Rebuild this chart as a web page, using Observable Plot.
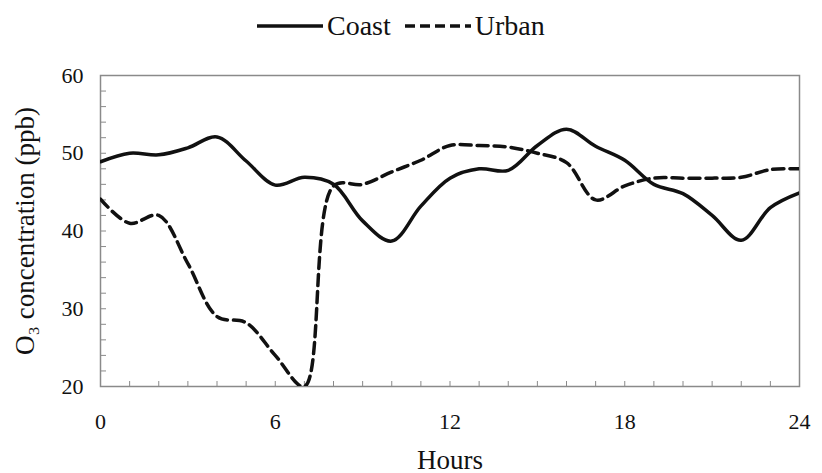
<!DOCTYPE html>
<html>
<head>
<meta charset="utf-8">
<script src="https://cdn.jsdelivr.net/npm/d3@7"></script>
<script src="https://cdn.jsdelivr.net/npm/@observablehq/plot@0.6"></script>
<style>
  body { margin: 0; background: #fff; font-family: "Liberation Serif", "DejaVu Serif", serif; }
  #wrap { position: relative; width: 822px; height: 473px; }
  #legend { position: absolute; left: 257px; top: 6px; height: 40px; display: flex; align-items: center; font-size: 28px; color: #111; }
  #legend .item { display: flex; align-items: center; }
  #legend svg { display: block; }
  #chart { position: absolute; left: 0; top: 45px; }
  #chart svg text { font-family: "Liberation Serif", serif !important; }
</style>
</head>
<body>
<div id="wrap">
  <div id="legend"></div>
  <div id="chart"></div>
</div>
<script>
const hours = [0,1,2,3,4,5,6,7,8,9,10,11,12,13,14,15,16,17,18,19,20,21,22,23,24];
const coast = [48.9,50.0,49.8,50.7,52.1,49.0,45.9,46.9,46.0,41.3,38.7,43.2,46.8,48.0,47.8,51.0,53.1,50.9,49.1,46.0,44.8,42.0,38.8,43.0,44.9];
const urban = [44.1,41.0,42.0,35.8,29.0,28.2,24.0,20.0,45.8,46.0,47.6,49.1,51.0,51.0,50.8,50.0,48.8,44.0,45.8,46.8,46.8,46.8,46.9,47.9,48.0];
const seriesNames = ["Coast", "Urban"];
const xLabelTicks = [0, 6, 12, 18, 24];
const xMinorTicks = d3.range(0, 25, 1);
const yLabelTicks = [20, 30, 40, 50, 60];
const yMinorTicks = d3.range(20, 61, 2);

const rows = [];
hours.forEach((h, i) => {
  rows.push({hour: h, value: coast[i], series: seriesNames[0]});
  rows.push({hour: h, value: urban[i], series: seriesNames[1]});
});

const dashes = {Coast: null, Urban: "11,6"};
const serif = "Liberation Serif";

// legend
const legend = document.getElementById("legend");
seriesNames.forEach((name, i) => {
  const item = document.createElement("div");
  item.className = "item";
  if (i > 0) item.style.marginLeft = "14px";
  const ns = "http://www.w3.org/2000/svg";
  const s = document.createElementNS(ns, "svg");
  s.setAttribute("width", 66); s.setAttribute("height", 10);
  const l = document.createElementNS(ns, "line");
  l.setAttribute("x1", 0); l.setAttribute("x2", 66); l.setAttribute("y1", 5); l.setAttribute("y2", 5);
  l.setAttribute("stroke", "#111"); l.setAttribute("stroke-width", 3.5);
  if (dashes[name]) l.setAttribute("stroke-dasharray", "10,5");
  s.appendChild(l);
  const t = document.createElement("span");
  t.textContent = name;
  t.style.marginLeft = "4px";
  item.appendChild(s); item.appendChild(t);
  legend.appendChild(item);
});

const chart = Plot.plot({
  width: 822,
  height: 428,
  marginLeft: 100,
  marginRight: 23,
  marginTop: 30,
  marginBottom: 87,
  style: {fontFamily: serif, fontSize: "22px", color: "#111", background: "#fff"},
  x: {domain: [0, 24]},
  y: {domain: [20, 60]},
  marks: [
    Plot.frame({stroke: "#8a8a8a", strokeWidth: 1.5}),
    Plot.axisX(xMinorTicks, {tickSize: -5, text: null, stroke: "#8a8a8a", label: null}),
    Plot.axisY(yMinorTicks, {tickSize: -6, text: null, stroke: "#8a8a8a", label: null}),
    Plot.axisX(xLabelTicks, {tickSize: 0, tickPadding: 27, fontSize: 22, fontFamily: serif, label: "Hours", labelAnchor: "center", labelOffset: 82, labelArrow: "none"}),
    Plot.axisY(yLabelTicks, {tickSize: 0, tickPadding: 17, fontSize: 22, fontFamily: serif, label: "O₃ concentration (ppb)", labelAnchor: "center", labelOffset: 86, labelArrow: "none"}),
    Plot.line(rows.filter(d => d.series === "Coast"), {x: "hour", y: "value", stroke: "#111", strokeWidth: 3.5, curve: "catmull-rom", clip: true}),
    Plot.line(rows.filter(d => d.series === "Urban"), {x: "hour", y: "value", stroke: "#111", strokeWidth: 3.5, strokeDasharray: "11,6", curve: "catmull-rom", clip: true})
  ]
});
document.getElementById("chart").appendChild(chart);
// axis title font size
chart.querySelectorAll("g[aria-label='x-axis label'] text, g[aria-label='y-axis label'] text").forEach(t => { t.setAttribute("font-size", 27); });
</script>
</body>
</html>
